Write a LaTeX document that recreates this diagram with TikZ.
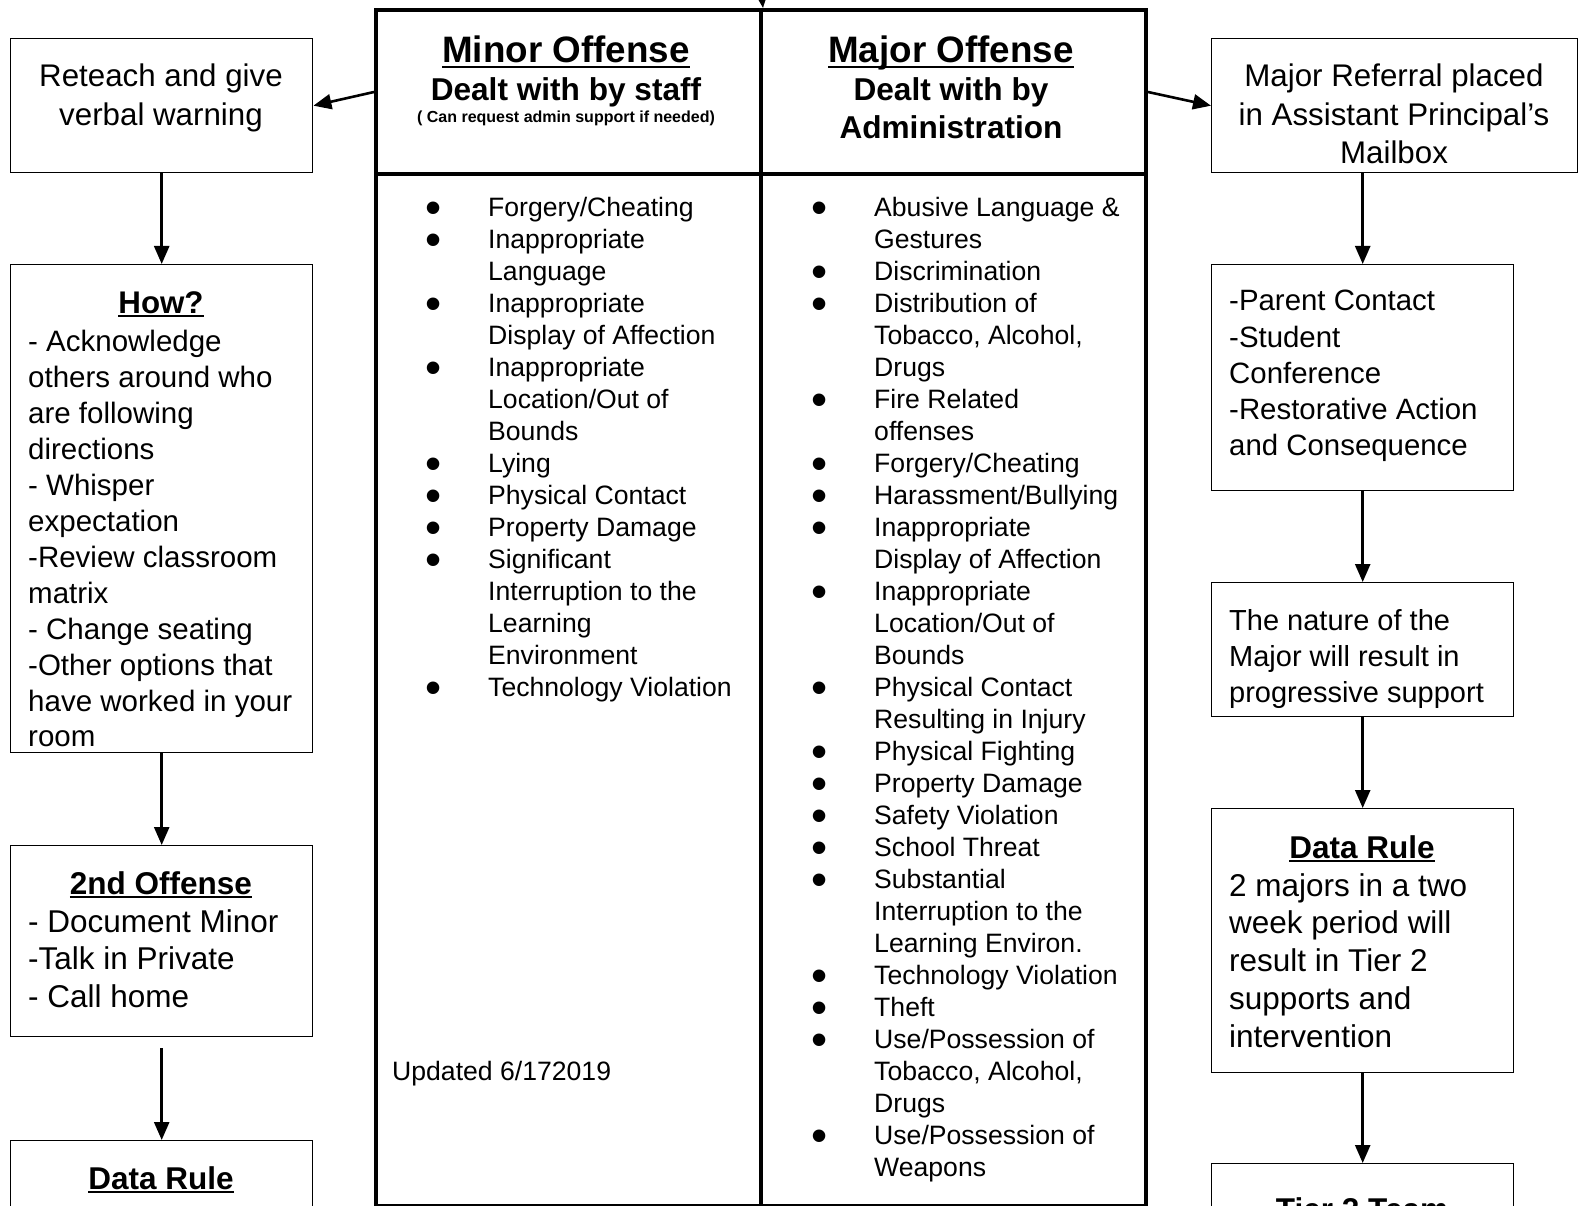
\documentclass[tikz,border=0pt]{standalone}
\usepackage{fontspec}
\setmainfont{Liberation Sans}
\usetikzlibrary{arrows.meta, positioning}

\newcommand\fs[2]{\fontsize{#1}{#2}\selectfont}
\newsavebox\ubox
\newcommand\uhead[1]{\leavevmode\sbox\ubox{\textbf{#1}}\rlap{\rule[-0.14em]{\wd\ubox}{0.07em}}\usebox\ubox}
\newcommand\bul{\smash{\raisebox{-7pt}{\fs{46}{32}\textbullet}}}

\begin{document}
\begin{tikzpicture}[x=1pt, y=-1pt, >={Triangle[length=18pt, width=15pt]},
    box/.style={draw, line width=1.4pt, anchor=north west, inner sep=0pt},
    col/.style={draw, line width=4pt, anchor=north west, inner sep=0pt},
    flow/.style={->, line width=2.6pt},
    txt/.style={anchor=base west, inner sep=0pt},
    ctxt/.style={anchor=base, inner sep=0pt}]
    \useasboundingbox (0,0) rectangle (1582,1206);
    \clip (0,0) rectangle (1582,1206);

    % left column (minor)
    \node[box, minimum width=302pt, minimum height=134pt] (reteach) at (10,38) {};
    \node[box, minimum width=302pt, minimum height=488pt] (how) at (10,264) {};
    \node[box, minimum width=302pt, minimum height=191pt] (second) at (10,845) {};
    \node[box, minimum width=302pt, minimum height=120pt] (minorrule) at (10,1140) {};

    % middle table
    \node[col, minimum width=385pt, minimum height=164pt] (minorhead) at (374,8) {};
    \node[col, minimum width=385pt, minimum height=1032pt] (minorlist) at (374,172) {};
    \node[col, minimum width=385pt, minimum height=164pt] (majorhead) at (759,8) {};
    \node[col, minimum width=385pt, minimum height=1032pt] (majorlist) at (759,172) {};

    % right column (major)
    \node[box, minimum width=366pt, minimum height=134pt] (referral) at (1211,38) {};
    \node[box, minimum width=302pt, minimum height=226pt] (contact) at (1211,264) {};
    \node[box, minimum width=302pt, minimum height=134pt] (nature) at (1211,582) {};
    \node[box, minimum width=302pt, minimum height=264pt] (majorrule) at (1211,808) {};
    \node[box, minimum width=302pt, minimum height=120pt] (tier) at (1211,1163) {};

    % arrows
    \coordinate (topin) at (759,-30);
    \draw[flow] (topin) -- (minorhead.north east);
    \draw[flow] (minorhead.west) -- (reteach.east);
    \draw[flow] (majorhead.east) -- (referral.west);
    \draw[flow] (reteach) -- (how);
    \draw[flow] (how) -- (second);
    \draw[flow, shorten <=11pt] (second) -- (minorrule);
    \draw[flow] (contact.north |- referral.south) -- (contact.north);
    \draw[flow] (contact) -- (nature);
    \draw[flow] (nature) -- (majorrule);
    \draw[flow] (majorrule) -- (tier);

    % headers
    \node[ctxt] (minortitle) at (566,63) {\fs{36.8}{40}\uhead{Minor Offense}};
    \node[ctxt] (minorwho) at (566,101) {\fs{31.6}{37.3}\textbf{Dealt with by staff}};
    \node[ctxt] (minornote) at (566,123) {\fs{16}{18}\textbf{( Can request admin support if needed)}};
    \node[ctxt] (majortitle) at (951,63) {\fs{36.8}{40}\uhead{Major Offense}};
    \node[ctxt] (majorwho) at (951,101) {\fs{31.6}{37.3}\bfseries
        \begin{tabular}[t]{@{}c@{}}
            Dealt with by\\
            Administration
        \end{tabular}};

    % minor list
    \node[txt] (minoritems) at (425,216.5) {\fs{26.6}{32}%
        \begin{tabular}[t]{@{}p{63pt}@{}l@{}}
            \bul & Forgery/Cheating\\
            \bul & Inappropriate\\
                 & Language\\
            \bul & Inappropriate\\
                 & Display of Affection\\
            \bul & Inappropriate\\
                 & Location/Out of\\
                 & Bounds\\
            \bul & Lying\\
            \bul & Physical Contact\\
            \bul & Property Damage\\
            \bul & Significant\\
                 & Interruption to the\\
                 & Learning\\
                 & Environment\\
            \bul & Technology Violation
        \end{tabular}};
    \node[txt] (updated) at (392,1080) {\fs{26.6}{32}Updated 6/172019};

    % major list
    \node[txt] (majoritems) at (811,216.5) {\fs{26.6}{32}%
        \begin{tabular}[t]{@{}p{63pt}@{}l@{}}
            \bul & Abusive Language \&\\
                 & Gestures\\
            \bul & Discrimination\\
            \bul & Distribution of\\
                 & Tobacco, Alcohol,\\
                 & Drugs\\
            \bul & Fire Related\\
                 & offenses\\
            \bul & Forgery/Cheating\\
            \bul & Harassment/Bullying\\
            \bul & Inappropriate\\
                 & Display of Affection\\
            \bul & Inappropriate\\
                 & Location/Out of\\
                 & Bounds\\
            \bul & Physical Contact\\
                 & Resulting in Injury\\
            \bul & Physical Fighting\\
            \bul & Property Damage\\
            \bul & Safety Violation\\
            \bul & School Threat\\
            \bul & Substantial\\
                 & Interruption to the\\
                 & Learning Environ.\\
            \bul & Technology Violation\\
            \bul & Theft\\
            \bul & Use/Possession of\\
                 & Tobacco, Alcohol,\\
                 & Drugs\\
            \bul & Use/Possession of\\
                 & Weapons
        \end{tabular}};

    % left box texts
    \node[ctxt] (reteachtext) at (161,87) {\fs{31.3}{38.3}%
        \begin{tabular}[t]{@{}c@{}}
            Reteach and give\\
            verbal warning
        \end{tabular}};
    \node[ctxt] (howtitle) at (161,313) {\fs{31.3}{36}\uhead{How?}};
    \node[txt] (howtext) at (28,352) {\fs{29.5}{35.9}%
        \begin{tabular}[t]{@{}l@{}}
            - Acknowledge\\
            others around who\\
            are following\\
            directions\\
            - Whisper\\
            expectation\\
            -Review classroom\\
            matrix\\
            - Change seating\\
            -Other options that\\
            have worked in your\\
            room
        \end{tabular}};
    \node[ctxt] (secondtitle) at (161,894) {\fs{31.5}{38}\uhead{2nd Offense}};
    \node[txt] (secondtext) at (28,932) {\fs{31.5}{37.8}%
        \begin{tabular}[t]{@{}l@{}}
            - Document Minor\\
            -Talk in Private\\
            - Call home
        \end{tabular}};
    \node[ctxt] (minorruletitle) at (161,1189) {\fs{31.5}{38}\uhead{Data Rule}};

    % right box texts
    \node[ctxt] (referraltext) at (1394,87) {\fs{31.3}{38.3}%
        \begin{tabular}[t]{@{}c@{}}
            Major Referral placed\\
            in Assistant Principal’s\\
            Mailbox
        \end{tabular}};
    \node[txt] (contacttext) at (1229,311) {\fs{29.4}{36.1}%
        \begin{tabular}[t]{@{}l@{}}
            -Parent Contact\\
            -Student\\
            Conference\\
            -Restorative Action\\
            and Consequence
        \end{tabular}};
    \node[txt] (naturetext) at (1229,630) {\fs{29}{36.3}%
        \begin{tabular}[t]{@{}l@{}}
            The nature of the\\
            Major will result in\\
            progressive support
        \end{tabular}};
    \node[ctxt] (majorruletitle) at (1362,858) {\fs{31.5}{38}\uhead{Data Rule}};
    \node[txt] (majorruletext) at (1229,896) {\fs{31.5}{37.8}%
        \begin{tabular}[t]{@{}l@{}}
            2 majors in a two\\
            week period will\\
            result in Tier 2\\
            supports and\\
            intervention
        \end{tabular}};
    \node[ctxt] (tiertitle) at (1362,1220) {\fs{31.5}{38}\uhead{Tier 2 Team}};
\end{tikzpicture}
\end{document}
